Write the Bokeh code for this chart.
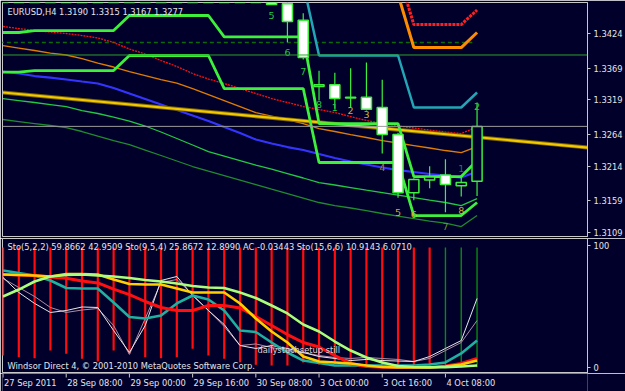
from bokeh.plotting import figure
from bokeh.layouts import column
from bokeh.models import (ColumnDataSource, FixedTicker, PrintfTickFormatter, Range1d,
                          Span, Label)
from bokeh.core.properties import value
from bokeh.embed import file_html
from bokeh.resources import INLINE

# ---------------- data ----------------
bars = list(range(-1, 30))  # H4 bars, 27 Sep 16:00 .. 4 Oct 16:00

opens = [1.3540, 1.3560, 1.3540, 1.3552, 1.3578, 1.3570, 1.3548, 1.3530, 1.3540, 1.3575,
         1.3605, 1.3620, 1.3590, 1.3600, 1.3595, 1.3570, 1.3540, 1.3510, 1.3471, 1.3445,
         1.3340, 1.3343, 1.3323, 1.3323, 1.3307, 1.3264, 1.3172, 1.3192, 1.3200, 1.3183, 1.3190]
highs = [1.3575, 1.3572, 1.3560, 1.3585, 1.3600, 1.3590, 1.3555, 1.3545, 1.3580, 1.3620,
         1.3650, 1.3635, 1.3615, 1.3610, 1.3600, 1.3580, 1.3555, 1.3520, 1.3478, 1.3456,
         1.3365, 1.3362, 1.3369, 1.3378, 1.3351, 1.3267, 1.3195, 1.3214, 1.3225, 1.3200, 1.3315]
lows = [1.3530, 1.3535, 1.3528, 1.3545, 1.3560, 1.3540, 1.3520, 1.3515, 1.3535, 1.3570,
        1.3590, 1.3575, 1.3560, 1.3580, 1.3560, 1.3530, 1.3500, 1.3469, 1.3410, 1.3383,
        1.3318, 1.3305, 1.3307, 1.3302, 1.3234, 1.3164, 1.3160, 1.3179, 1.3141, 1.3166, 1.3167]
closes = [1.3560, 1.3540, 1.3552, 1.3578, 1.3570, 1.3548, 1.3530, 1.3540, 1.3575, 1.3605,
          1.3620, 1.3590, 1.3600, 1.3595, 1.3570, 1.3540, 1.3510, 1.3470, 1.3443, 1.3386,
          1.3343, 1.3321, 1.3322, 1.3304, 1.3264, 1.3172, 1.3193, 1.3197, 1.3185, 1.3188, 1.3277]

chan_upper = [1.34256, 1.34256, 1.34287, 1.34287, 1.34287, 1.34287, 1.34287, 1.34287,
              1.34525, 1.34525, 1.34525, 1.34525, 1.34525, 1.34525,
              1.34187, 1.34187, 1.34187, 1.34187, 1.34187, 1.34187,
              1.32815, 1.32815, 1.32815, 1.32815, 1.32815, 1.32815,
              1.31976, 1.31976, 1.31976, 1.31976, 1.32230]
chan_lower = [1.33630, 1.33630, 1.33654, 1.33654, 1.33654, 1.33654, 1.33654, 1.33654,
              1.33892, 1.33892, 1.33892, 1.33892, 1.33892, 1.33892,
              1.33369, 1.33369, 1.33369, 1.33369, 1.33369, 1.33369,
              1.32198, 1.32198, 1.32198, 1.32198, 1.32198, 1.32198,
              1.31359, 1.31359, 1.31359, 1.31359, 1.31565]
teal_step = [1.3503, 1.3503, 1.3503, 1.3503, 1.3503, 1.3503, 1.3503, 1.3503, 1.3503, 1.3503,
             1.3503, 1.3503, 1.3503, 1.3503, 1.3503, 1.3503, 1.3503, 1.3503, 1.3503, 1.3503,
             1.33892, 1.33892, 1.33892, 1.33892, 1.33892, 1.33892,
             1.33069, 1.33069, 1.33069, 1.33069, 1.33306]
orange_step = [1.34857, 1.34857, 1.34857, 1.34857, 1.34857, 1.34857, 1.34857, 1.34857, 1.34857,
               1.34857, 1.34857, 1.34857, 1.34857, 1.34857, 1.34857, 1.34857, 1.34857, 1.34857,
               1.34857, 1.34857, 1.34857, 1.34857, 1.34857, 1.34857, 1.34857, 1.34857,
               1.34018, 1.34018, 1.34018, 1.34018, 1.34256]
red_step = [1.35206, 1.35206, 1.35206, 1.35206, 1.35206, 1.35206, 1.35206, 1.35206, 1.35206,
            1.35206, 1.35206, 1.35206, 1.35206, 1.35206, 1.35206, 1.35206, 1.35206, 1.35206,
            1.35206, 1.35206, 1.35206, 1.35206, 1.35206, 1.35206, 1.35206, 1.35206,
            1.34382, 1.34382, 1.34382, 1.34382, 1.34612]

red_ma = [1.34351, 1.34319, 1.34287, 1.34264, 1.34240, 1.34208, 1.34169, 1.34098, 1.33995, 1.33915,
          1.33813, 1.33718, 1.33607, 1.33520, 1.33449, 1.33369, 1.33290, 1.33211, 1.33148, 1.33084,
          1.33037, 1.32989, 1.32926, 1.32863, 1.32815, 1.32776, 1.32744, 1.32712, 1.32681, 1.32657, 1.32760]
orange_ma = [1.34050, 1.34010, 1.33971, 1.33931, 1.33900, 1.33844, 1.33773, 1.33710, 1.33638, 1.33575,
             1.33511, 1.33456, 1.33369, 1.33274, 1.33179, 1.33084, 1.32989, 1.32934, 1.32879, 1.32815,
             1.32736, 1.32689, 1.32641, 1.32594, 1.32546, 1.32507, 1.32467, 1.32428, 1.32388, 1.32356, 1.32451]
blue_ma = [1.33638, 1.33607, 1.33567, 1.33543, 1.33512, 1.33480, 1.33449, 1.33377, 1.33290, 1.33203,
           1.33116, 1.33029, 1.32942, 1.32855, 1.32760, 1.32665, 1.32562, 1.32499, 1.32443, 1.32396,
           1.32332, 1.32269, 1.32214, 1.32166, 1.32119, 1.32079, 1.32048, 1.32016, 1.31992, 1.31960, 1.32055]
green_ma = [1.33211, 1.33179, 1.33148, 1.33116, 1.33084, 1.33021, 1.32974, 1.32918, 1.32855, 1.32776,
            1.32681, 1.32578, 1.32475, 1.32372, 1.32301, 1.32230, 1.32158, 1.32095, 1.32024, 1.31953,
            1.31881, 1.31842, 1.31802, 1.31762, 1.31723, 1.31683, 1.31644, 1.31604, 1.31565, 1.31517, 1.31628]
dkgreen_ma = [1.32879, 1.32847, 1.32815, 1.32784, 1.32752, 1.32689, 1.32617, 1.32546, 1.32483, 1.32396,
              1.32309, 1.32222, 1.32135, 1.32063, 1.31992, 1.31921, 1.31850, 1.31778, 1.31707, 1.31636,
              1.31565, 1.31517, 1.31478, 1.31438, 1.31391, 1.31351, 1.31311, 1.31272, 1.31240, 1.31185, 1.31359]

trend_x = [-1, 36]
trend_y = [1.33306, 1.32435]
dash_level = 1.34098
dash_x = [-1.2, 28.7]
solid_level = 1.33900
bid = 1.3277

price_ticks = [1.3109, 1.3159, 1.3214, 1.3264, 1.3319, 1.3369, 1.3424]

num_bar = [16, 17, 18, 19, 20, 21, 22, 23, 24, 25, 27, 28, 28, 29]
num_price = [1.34525, 1.33939, 1.33638, 1.33116, 1.33070, 1.33022, 1.32960, 1.32119,
             1.31406, 1.31375, 1.31185, 1.31438, 1.32103, 1.33084]
num_text = ["5", "6", "7", "8", "1", "2", "3", "4", "5", "6", "7", "8", "1", "2"]
num_group = ["a", "a", "a", "a", "a", "b", "b", "c", "b", "b", "d", "b", "e", "a"]

# sub window (oscillators, 0..100)
osc_lightgreen = [58.2, 63.9, 70.5, 74.6, 75.8, 76.2, 75.4, 74.6, 73.4, 71.7, 70.5, 68.9, 66.8, 65.6, 65.2,
                  61.5, 57.0, 50.8, 44.3, 35.2, 29.5, 21.3, 13.9, 8.2, 4.1, 1.2, 0.4, 0.2, 0.2, 0.8, 1.6]
osc_yellow = [76.2, 75.8, 75.4, 74.6, 76.6, 76.6, 76.2, 72.1, 68.4, 68.0, 68.0, 64.8, 61.5, 61.5, 61.5,
              52.5, 40.2, 29.5, 20.5, 9.0, 4.9, 4.1, 3.3, 1.6, 0.4, 0.0, 0.0, 0.0, 0.8, 2.5, 5.7]
osc_red = [76.2, 75.8, 75.4, 74.2, 73.1, 70.9, 69.3, 64.3, 59.8, 54.1, 49.2, 46.7, 46.7, 50.8, 50.8,
           48.8, 41.8, 34.4, 27.0, 20.5, 16.8, 9.8, 3.3, 0.8, 0.2, 0.2, 0.2, 0.2, 1.2, 3.3, 7.4]
osc_teal = [79.5, 77.5, 75.4, 71.3, 65.2, 64.8, 64.8, 53.3, 41.4, 40.2, 42.6, 52.5, 59.0, 55.7, 46.7,
            30.3, 29.1, 20.5, 12.3, 5.7, 3.7, 1.6, 1.6, 1.6, 1.6, 1.6, 1.6, 2.5, 4.1, 11.5, 22.1]
osc_white = [73.8, 61.5, 52.5, 45.1, 46.7, 49.6, 49.2, 30.3, 12.3, 34.4, 71.3, 74.6, 59.0, 46.7, 35.2,
             18.0, 15.6, 18.0, 15.6, 12.3, 9.0, 7.4, 5.7, 6.6, 5.7, 5.3, 4.9, 9.0, 15.6, 22.1, 56.6]
osc_pink = [73.0, 65.6, 58.2, 49.2, 45.1, 47.1, 48.4, 34.4, 10.7, 40.2, 69.7, 72.1, 59.8, 46.7, 33.6,
            18.0, 19.3, 16.4, 13.9, 12.3, 9.8, 8.2, 7.4, 8.2, 7.4, 6.6, 4.9, 7.4, 13.9, 20.5, 38.5]
hist_top = [98.4, 98.4, 98.4, 98.4, 98.4, 98.4, 98.4, 98.4, 98.4, 98.4, 98.4, 98.4, 98.4, 98.4, 98.4,
            98.4, 98.4, 98.4, 98.4, 98.4, 98.4, 98.4, 98.4, 98.4, 98.4, 98.4, 98.4, 98.4, 98.4, 98.4, 98.4]
hist_low = [9.8, 8.4, 7.6, 13.9, 11.2, 7.1, 4.9, 13.9, 11.2, 8.4, 7.6, 8.4, 15.3, 9.8, 7.1,
            4.3, 2.2, 1.6, 1.6, 4.1, 2.5, 3.0, 1.6, 0.2, 0.2, 0.2, 0.2, 0.2, 0.2, 0.2, 0.2]
hist_up = [0, 0, 0, 0, 0, 0, 0, 0, 0, 0, 0, 0, 0, 0, 0, 0, 0, 0, 0, 0, 0, 0, 0, 0, 0, 0, 0, 0, 1, 1, 1]

time_bars = [-1, 3, 7, 11, 15, 19, 23, 27]
time_labels = ["27 Sep 2011", "28 Sep 08:00", "29 Sep 00:00", "29 Sep 16:00",
               "30 Sep 08:00", "3 Oct 00:00", "3 Oct 16:00", "4 Oct 08:00"]

header_main = "EURUSD,H4  1.3190 1.3315 1.3167 1.3277"
header_sub = ("Sto(5,2,2) 59.8662 42.9509  Sto(9,5,4) 25.8672 12.8990  AC -0.03443  "
              "Sto(15,6,6) 10.9143 6.0710")

# ---------------- style ----------------
BG = "#00002b"
FONT = "DejaVu Sans"
FS = "8.3px"
TXT = "#e4e4e4"
FRAME = "#c8c8c8"
CANDLE = "#3cf03c"
X_RANGE = (-1.032, 35.99)

main = figure(width=625, height=238, x_range=Range1d(*X_RANGE), y_range=Range1d(1.31027, 1.34731),
              x_axis_location=None, y_axis_location="right", toolbar_location=None,
              output_backend="svg", min_border_left=2, min_border_right=38,
              min_border_top=2, min_border_bottom=2)
main.background_fill_color = BG
main.border_fill_color = BG
main.outline_line_color = FRAME
main.grid.visible = False
ya = main.yaxis[0]
ya.ticker = FixedTicker(ticks=price_ticks)
ya.formatter = PrintfTickFormatter(format="%.4f")
ya.major_label_text_color = TXT
ya.major_label_text_font = FONT
ya.major_label_text_font_size = FS
ya.major_tick_out = 3
ya.major_tick_in = 0
ya.minor_tick_out = 0
ya.minor_tick_in = 0
ya.major_tick_line_color = FRAME
ya.axis_line_color = FRAME
ya.major_label_standoff = 3

# horizontal levels
main.add_layout(Span(location=solid_level, dimension="width", line_color="#2ea02e", line_width=1))
main.add_layout(Span(location=bid, dimension="width", line_color="#9a9a9a", line_width=1))
main.line(x=dash_x, y=[dash_level, dash_level], line_color="#0a6a0a", line_width=1.5, line_dash="4 3")

# moving averages / bands
main.line(bars, dkgreen_ma, line_color="#1f8a2f", line_width=1.3)
main.line(bars, green_ma, line_color="#22c844", line_width=1.3)
main.line(bars, orange_ma, line_color="#e07c00", line_width=1.3)
main.line(bars, red_ma, line_color="#ff1010", line_width=1.3, line_dash="2 1")
main.line(bars, blue_ma, line_color="#3434ff", line_width=2.2)
main.line(trend_x, trend_y, line_color="#7a6400", line_width=4)
main.line(trend_x, trend_y, line_color="#f2c800", line_width=2.2)

# step channels
main.line(bars, red_step, line_color="#ff2020", line_width=3, line_dash="3 1")
main.line(bars, orange_step, line_color="#ff8c00", line_width=3)
main.line(bars, teal_step, line_color="#22a6b6", line_width=2.5)
main.line(bars, chan_upper, line_color="#3cf03c", line_width=2.8)
main.line(bars, chan_lower, line_color="#3cf03c", line_width=2.8)

# candles
csrc = ColumnDataSource(dict(
    x=bars, o=opens, h=highs, l=lows, c=closes,
    top=[max(a, b) for a, b in zip(opens, closes)],
    bottom=[min(a, b) for a, b in zip(opens, closes)],
    fill=[BG if c >= o else "#ffffff" for o, c in zip(opens, closes)],
))
main.segment(x0="x", y0="l", x1="x", y1="h", source=csrc, line_color=CANDLE, line_width=1.2)
main.vbar(x="x", width=0.64, top="top", bottom="bottom", source=csrc,
          fill_color="fill", line_color=CANDLE, line_width=1.5)

# wave numbers
num_colors = {"a": "#22c844", "b": "#d0b020", "c": "#b07a30", "d": "#6a9a20", "e": "#1a7a5a"}
nsrc = ColumnDataSource(dict(x=num_bar, y=num_price, t=num_text,
                             col=[num_colors[g] for g in num_group]))
main.text(x="x", y="y", text="t", source=nsrc, text_color="col", text_font=value(FONT),
          text_font_size="9.5px", text_align="center", text_baseline="middle")

main.add_layout(Label(x=5, y=225, x_units="screen", y_units="screen", text=header_main,
                      text_color=TXT, text_font=FONT, text_font_size=FS, text_baseline="middle"))
main.add_layout(Label(x=36.25, y=bid, text="1.3277", text_color="#000000",
                      text_font=FONT, text_font_size=FS, text_baseline="middle",
                      background_fill_color="#ffffff", padding=2))

# ---------------- sub window ----------------
sub = figure(width=625, height=135, x_range=main.x_range, y_range=Range1d(-4.92, 105.74),
             x_axis_location=None, y_axis_location="right", toolbar_location=None,
             output_backend="svg", min_border_left=2, min_border_right=38,
             min_border_top=0, min_border_bottom=0)
sub.background_fill_color = BG
sub.border_fill_color = BG
sub.outline_line_color = FRAME
sub.grid.visible = False
sy = sub.yaxis[0]
sy.ticker = FixedTicker(ticks=[0, 100])
sy.major_label_text_color = TXT
sy.major_label_text_font = FONT
sy.major_label_text_font_size = FS
sy.major_tick_out = 3
sy.major_tick_in = 0
sy.minor_tick_out = 0
sy.minor_tick_in = 0
sy.major_tick_line_color = FRAME
sy.axis_line_color = FRAME
sy.major_label_standoff = 3

hsrc = ColumnDataSource(dict(x=bars, top=hist_top, low=hist_low,
                             col=["#0a8a0a" if u else "#ff0c0c" for u in hist_up],
                             w=[1.4 if u else 2.2 for u in hist_up]))
sub.segment(x0="x", y0="low", x1="x", y1="top", source=hsrc, line_color="col", line_width="w")

sub.line(bars, osc_pink, line_color="#b08ca4", line_width=1)
sub.line(bars, osc_white, line_color="#e8e8e8", line_width=1)
sub.line(bars, osc_teal, line_color="#1fb0a0", line_width=2.6)
sub.line(bars, osc_red, line_color="#ff1010", line_width=3)
sub.line(bars, osc_yellow, line_color="#ffd000", line_width=2.6)
sub.line(bars, osc_lightgreen, line_color="#aaff7a", line_width=2.6)

sub.add_layout(Label(x=5, y=127, x_units="screen", y_units="screen", text=header_sub,
                     text_color=TXT, text_font=FONT, text_font_size=FS, text_baseline="middle"))
sub.add_layout(Label(x=255, y=24, x_units="screen", y_units="screen", text="dailystochsetup still",
                     text_color="#d8d8d8", text_font=FONT, text_font_size=FS, text_baseline="middle"))
sub.add_layout(Label(x=5, y=7.5, x_units="screen", y_units="screen",
                     text="Windsor Direct 4, \u00a9 2001-2010 MetaQuotes Software Corp.",
                     text_color=TXT, text_font=FONT, text_font_size=FS, text_baseline="middle"))

# ---------------- time scale strip ----------------
tb = figure(width=625, height=18, x_range=main.x_range, y_range=Range1d(0, 18),
            x_axis_location=None, y_axis_location=None, toolbar_location=None,
            output_backend="svg", min_border_left=2, min_border_right=38,
            min_border_top=0, min_border_bottom=0)
tb.background_fill_color = BG
tb.border_fill_color = BG
tb.outline_line_color = None
tb.grid.visible = False
tsrc = ColumnDataSource(dict(x=time_bars, t=time_labels))
tb.segment(x0="x", y0=14, x1="x", y1=18, source=tsrc, line_color=FRAME, line_width=1)
tb.text(x="x", y=8.5, text="t", source=tsrc, x_offset=1, text_color=TXT,
        text_font=value(FONT), text_font_size=FS, text_align="left", text_baseline="middle")

layout = column(main, sub, tb, spacing=0)
open("out.html", "w").write(file_html(layout, INLINE))
